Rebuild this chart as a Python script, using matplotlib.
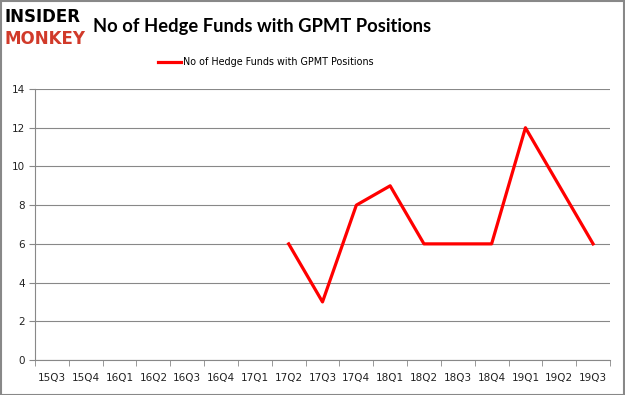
import matplotlib.pyplot as plt
import numpy as np

# Δεδομένα
quarters = ["15Q3", "15Q4", "16Q1", "16Q2", "16Q3", "16Q4", "17Q1", "17Q2", "17Q3",
            "17Q4", "18Q1", "18Q2", "18Q3", "18Q4", "19Q1", "19Q2", "19Q3"]
funds = [None, None, None, None, None, None, None, 6, 3, 8, 9, 6, 6, 6, 12, 9, 6]
yticks = [0, 2, 4, 6, 8, 10, 12, 14]

x = np.arange(len(quarters))
y = np.array([np.nan if v is None else v for v in funds], dtype=float)

fig = plt.figure(figsize=(6.25, 3.95), dpi=100)
ax = fig.add_axes([0.056, 0.0886, 0.92, 0.686])

ax.plot(x, y, color="#ff0000", linewidth=2.3, label="No of Hedge Funds with GPMT Positions")

ax.set_xlim(-0.5, len(quarters) - 0.5)
ax.set_ylim(0, 14)
ax.set_yticks(yticks)
ax.set_xticks(x)
ax.set_xticklabels(quarters, fontsize=7.5, color="#222222")
ax.set_xticks(np.arange(-0.5, len(quarters)), minor=True)
ax.tick_params(axis="x", which="major", length=0, pad=9)
ax.tick_params(axis="x", which="minor", length=4, color="#888888")
ax.tick_params(axis="y", length=4, color="#888888", labelsize=7.5, labelcolor="#222222")
ax.grid(axis="y", color="#888888", linewidth=0.8)
ax.set_axisbelow(True)
for s in ["top", "right"]:
    ax.spines[s].set_visible(False)
ax.spines["left"].set_color("#888888")
ax.spines["bottom"].set_color("#888888")

ax.legend(loc="center", bbox_to_anchor=(0.425, 0.843), bbox_transform=fig.transFigure,
          frameon=False, fontsize=6.9, handlelength=2.4, handletextpad=0.2)

# Τίτλος και λογότυπο
fig.text(0.149, 0.932, "No of Hedge Funds with GPMT Positions", fontsize=13.2,
         fontweight="bold", va="center", ha="left", family="Lato")
fig.text(0.008, 0.957, "INSIDER", fontsize=12, fontweight="heavy", color="black",
         va="center", ha="left", family="DejaVu Sans")
fig.text(0.008, 0.9, "MONKEY", fontsize=12, fontweight="heavy", color="#d13a2a",
         va="center", ha="left", family="DejaVu Sans")

# Περίγραμμα εικόνας
fig.patches.append(plt.Rectangle((0.001, 0.001), 0.997, 0.997, transform=fig.transFigure,
                                 fill=False, edgecolor="#888888", linewidth=1.5))

fig.savefig("out.png", dpi=100)
